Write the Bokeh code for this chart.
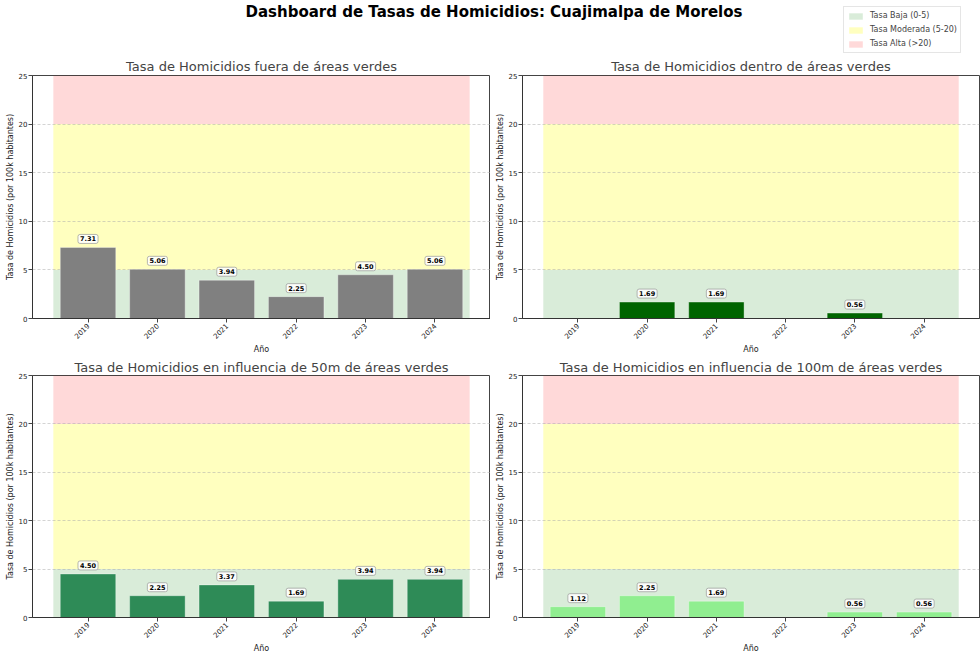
from math import pi

from bokeh.plotting import figure
from bokeh.layouts import column, row
from bokeh.models import Range1d, FixedTicker, Legend, LegendItem
from bokeh.embed import file_html
from bokeh.resources import INLINE
from bokeh.core.properties import value

# ---------------- data ----------------
years = ["2019", "2020", "2021", "2022", "2023", "2024"]
tasa_fuera = [7.31, 5.06, 3.94, 2.25, 4.50, 5.06]
tasa_dentro = [0.0, 1.69, 1.69, 0.0, 0.56, 0.0]
tasa_50m = [4.50, 2.25, 3.37, 1.69, 3.94, 3.94]
tasa_100m = [1.12, 2.25, 1.69, 0.0, 0.56, 0.56]

panel_titles = [
    "Tasa de Homicidios fuera de áreas verdes",
    "Tasa de Homicidios dentro de áreas verdes",
    "Tasa de Homicidios en influencia de 50m de áreas verdes",
    "Tasa de Homicidios en influencia de 100m de áreas verdes",
]
bar_colors = ["#808080", "#006400", "#2E8B57", "#90EE90"]

band_bottoms = [0, 5, 20]
band_tops = [5, 20, 25]
band_colors = ["green", "yellow", "red"]
band_alphas = [0.15, 0.25, 0.15]
band_labels = ["Tasa Baja (0-5)", "Tasa Moderada (5-20)", "Tasa Alta (>20)"]
y_ticks = [0, 5, 10, 15, 20, 25]

main_title = "Dashboard de Tasas de Homicidios: Cuajimalpa de Morelos"
y_label = "Tasa de Homicidios (por 100k habitantes)"
x_label = "Año"

FONT = "DejaVu Sans"
NAN = float("nan")


def make_panel(vals, color, title, width, height, mbl, mbr, mbt, mbb, title_standoff):
    n = len(years)
    p = figure(width=width, height=height, output_backend="svg", toolbar_location=None,
               x_range=Range1d(-0.8, n - 0.2), y_range=Range1d(0, 25),
               min_border_left=mbl, min_border_right=mbr,
               min_border_top=mbt, min_border_bottom=mbb)
    idx = list(range(n))
    # risk bands
    p.quad(left=-0.5, right=n - 0.5, bottom=band_bottoms, top=band_tops,
           fill_color=band_colors, fill_alpha=band_alphas, line_color=None,
           level="image")
    # bars
    p.vbar(x=idx, top=vals, width=0.8, fill_color=color, line_color="white",
           line_alpha=0.35, line_width=1)
    # value labels
    lx = [i for i, v in zip(idx, vals) if v > 0]
    ly = [v for v in vals if v > 0]
    lt = [f"{v:.2f}" for v in vals if v > 0]
    p.text(x=lx, y=ly, text=lt, text_align="center", text_baseline="bottom",
           y_offset=-4, text_font=value(FONT), text_font_style="bold",
           text_font_size="6.5px", text_color="black",
           background_fill_color="white", background_fill_alpha=0.85,
           border_line_color="#999999", border_line_alpha=0.7,
           padding=2, border_radius=2)

    p.title.text = title
    p.title.align = "center"
    p.title.text_font = FONT
    p.title.text_font_size = "13px"
    p.title.text_font_style = "normal"
    p.title.standoff = title_standoff

    p.xaxis.ticker = FixedTicker(ticks=idx)
    p.xaxis.major_label_overrides = {i: y for i, y in enumerate(years)}
    p.xaxis.major_label_orientation = pi / 4
    p.yaxis.ticker = FixedTicker(ticks=y_ticks)
    p.xaxis.axis_label = x_label
    p.yaxis.axis_label = y_label
    for ax in (p.xaxis[0], p.yaxis[0]):
        ax.axis_label_text_font = FONT
        ax.axis_label_text_font_size = "8px"
        ax.axis_label_text_font_style = "normal"
        ax.axis_label_text_color = "#222222"
        ax.major_label_text_font = FONT
        ax.major_label_text_font_size = "7px"
        ax.major_label_text_color = "#222222"
        ax.minor_tick_line_color = None
        ax.major_tick_out = 4
        ax.major_tick_in = 0
        ax.major_tick_line_color = "#444444"
        ax.axis_line_color = "#333333"
        ax.axis_label_standoff = 1
    p.xaxis.major_label_standoff = 2
    p.yaxis.major_label_standoff = 1
    p.xgrid.visible = False
    p.ygrid.grid_line_color = "#aaaaaa"
    p.ygrid.grid_line_dash = "3 2"
    p.ygrid.grid_line_alpha = 0.5
    p.outline_line_color = "#444444"
    p.outline_line_alpha = 1
    return p


# ---------------- header ----------------
HEADER_H = 54
header = figure(width=980, height=HEADER_H, output_backend="svg", toolbar_location=None,
                x_range=Range1d(0, 980), y_range=Range1d(HEADER_H, 0),
                x_axis_type=None, y_axis_type=None, min_border=0)
header.outline_line_color = None
header.grid.visible = False
header.text(x=[493.5], y=[2], text=[main_title], text_align="center",
            text_baseline="top", text_font=value(FONT), text_font_style="bold",
            text_font_size="15px", text_color="black")
items = []
for lab, c, a in zip(band_labels, band_colors, band_alphas):
    r = header.quad(left=[NAN], right=[NAN], top=[NAN], bottom=[NAN], fill_color=c,
                    fill_alpha=a, line_color=None)
    items.append(LegendItem(label=lab, renderers=[r]))
leg = Legend(items=items, location=(843, 1))
leg.label_text_font = FONT
leg.label_text_font_size = "8px"
leg.glyph_width = 17
leg.glyph_height = 8
leg.label_height = 11
leg.spacing = 3
leg.padding = 3
leg.margin = 0
leg.label_standoff = 6
leg.border_line_color = "#cccccc"
leg.background_fill_alpha = 0.8
header.add_layout(leg)

# ---------------- panels ----------------
all_vals = [tasa_fuera, tasa_dentro, tasa_50m, tasa_100m]
p1 = make_panel(all_vals[0], bar_colors[0], panel_titles[0], 490, 303, 32, 0, 21, 38, 3)
p2 = make_panel(all_vals[1], bar_colors[1], panel_titles[1], 490, 303, 32, 1, 21, 38, 3)
p3 = make_panel(all_vals[2], bar_colors[2], panel_titles[2], 490, 299, 32, 0, 18, 38, 1)
p4 = make_panel(all_vals[3], bar_colors[3], panel_titles[3], 490, 299, 32, 1, 18, 38, 1)

layout = column(header, row(p1, p2), row(p3, p4))

with open("out.html", "w") as f:
    f.write(file_html(layout, INLINE))
